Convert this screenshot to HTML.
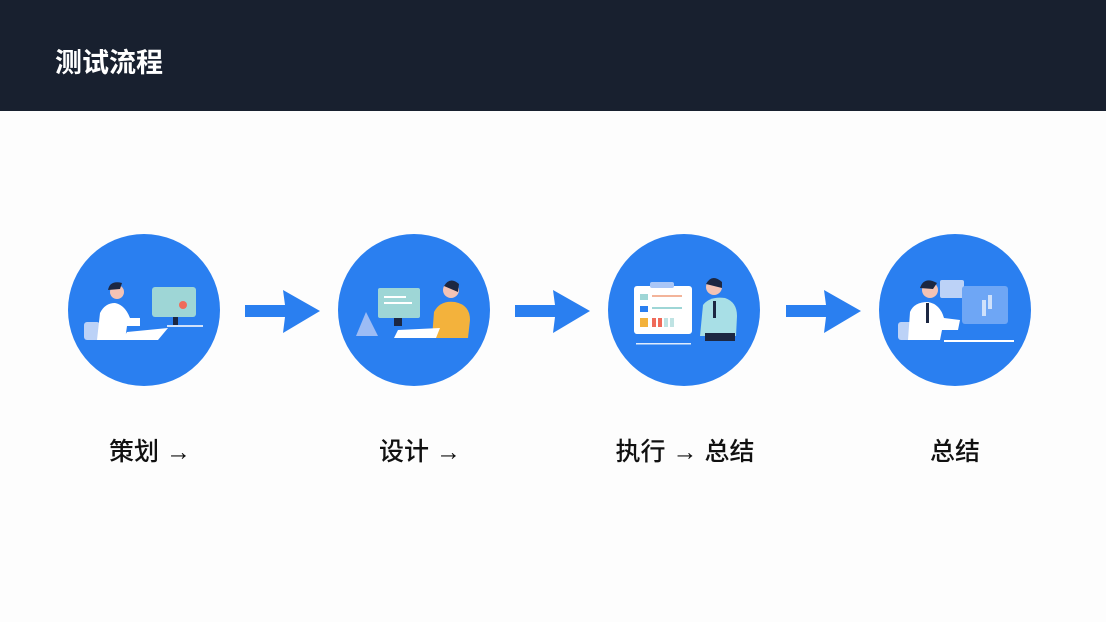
<!DOCTYPE html>
<html><head><meta charset="utf-8"><style>
body{margin:0;width:1106px;height:622px;background:#fdfdfd;overflow:hidden;font-family:"Liberation Sans","Noto Sans CJK SC",sans-serif;position:relative}
.hdr{position:absolute;left:0;top:0;width:1106px;height:111px;background:#18202f}
.hdr span{position:absolute;left:55px;top:41px;color:#fff;font-size:27px;font-weight:bold}
.lbl{position:absolute;top:432px;font-size:25px;font-weight:500;color:#111;text-align:center;width:240px}
svg{position:absolute;left:0;top:0}
</style></head><body>
<div class="hdr"><span>测试流程</span></div>
<svg width="1106" height="622">
<g fill="#2a7ff0">
<circle cx="144" cy="310" r="76"/><circle cx="414" cy="310" r="76"/><circle cx="684" cy="310" r="76"/><circle cx="955" cy="310" r="76"/>
<polygon points="245,305 285,305 283,290 320,311 283,333 285,317 245,317"/>
<polygon points="515,305 555,305 553,290 590,311 553,333 555,317 515,317"/>
<polygon points="786,305 826,305 824,290 861,311 824,333 826,317 786,317"/>
</g>
<rect x="84" y="322" width="16" height="18" rx="3" fill="#bcd2f7"/>
<path d="M97,340 L100,313 Q105,303 115,303 Q125,305 130,318 L140,318 L140,326 L127,326 L125,340Z" fill="#fff"/>
<circle cx="117" cy="292" r="7" fill="#f3c3b5"/><path d="M108,290 Q110,280 122,283 L120,289 Z" fill="#1c2742"/>
<path d="M127,332 L168,328 L158,340 L122,340Z" fill="#fff"/>
<rect x="152" y="287" width="44" height="30" rx="3" fill="#9ed6d6"/><circle cx="183" cy="305" r="4" fill="#ef6b5a"/>
<rect x="173" y="317" width="5" height="8" fill="#1c2742"/><rect x="167" y="325" width="36" height="2" fill="#cfe1fb"/>
<path d="M356,336 L366,312 L378,336Z" fill="#9cbcf5"/>
<rect x="378" y="288" width="42" height="30" rx="2" fill="#9ed6d6"/><rect x="384" y="296" width="22" height="2" fill="#fff"/><rect x="384" y="302" width="28" height="2" fill="#fff"/>
<rect x="394" y="318" width="8" height="8" fill="#1c2742"/>
<path d="M432,338 L434,312 Q440,300 455,302 Q470,305 470,320 L468,338Z" fill="#f3b23c"/>
<circle cx="451" cy="290" r="8" fill="#f3c3b5"/><path d="M444,286 Q450,276 459,284 L458,292Z" fill="#1c2742"/>
<path d="M398,330 L440,328 L436,338 L394,338Z" fill="#fff"/>
<rect x="634" y="286" width="58" height="48" rx="3" fill="#fff"/><rect x="650" y="282" width="24" height="6" rx="2" fill="#a9c6f7"/>
<rect x="640" y="294" width="8" height="6" fill="#9ed6d6"/><rect x="652" y="295" width="30" height="2" fill="#f3b49a"/>
<rect x="640" y="306" width="8" height="6" fill="#2a7ff0"/><rect x="652" y="307" width="30" height="2" fill="#9ed6d6"/>
<rect x="640" y="318" width="8" height="9" fill="#f3b23c"/><rect x="652" y="318" width="4" height="9" fill="#ef6b5a"/><rect x="658" y="318" width="4" height="9" fill="#ef6b5a"/><rect x="664" y="318" width="4" height="9" fill="#bfe3e3"/><rect x="670" y="318" width="4" height="9" fill="#bfe3e3"/>
<rect x="636" y="343" width="55" height="1.5" fill="#e0ecfd"/>
<path d="M700,336 L703,305 Q710,296 725,298 Q737,302 737,316 L736,336Z" fill="#a8dfe6"/>
<rect x="705" y="333" width="30" height="8" fill="#1c2742"/>
<circle cx="714" cy="287" r="8" fill="#f3c3b5"/><path d="M706,284 Q712,273 722,282 L722,288Z" fill="#1c2742"/>
<rect x="713" y="301" width="3" height="17" fill="#1c2742"/>
<rect x="940" y="280" width="24" height="18" rx="2" fill="#bcd2f7"/>
<rect x="962" y="286" width="46" height="38" rx="3" fill="#6ea6f5"/><rect x="982" y="300" width="4" height="16" fill="#cfe1fb"/><rect x="988" y="295" width="4" height="14" fill="#cfe1fb"/>
<rect x="944" y="340" width="70" height="2" fill="#fff"/>
<rect x="898" y="322" width="16" height="18" rx="3" fill="#bcd2f7"/>
<path d="M908,340 L910,312 Q914,302 928,302 Q940,304 944,318 L960,320 L958,330 L942,330 L940,340Z" fill="#fff"/>
<rect x="926" y="303" width="3" height="20" fill="#1c2742"/>
<circle cx="930" cy="290" r="8" fill="#f3c3b5"/><path d="M920,288 Q924,276 937,283 L933,289Z" fill="#1c2742"/>
</svg>
<div class="lbl" style="left:30px">策划 →</div>
<div class="lbl" style="left:300px">设计 →</div>
<div class="lbl" style="left:565px">执行 → 总结</div>
<div class="lbl" style="left:835px">总结</div>
</body></html>
